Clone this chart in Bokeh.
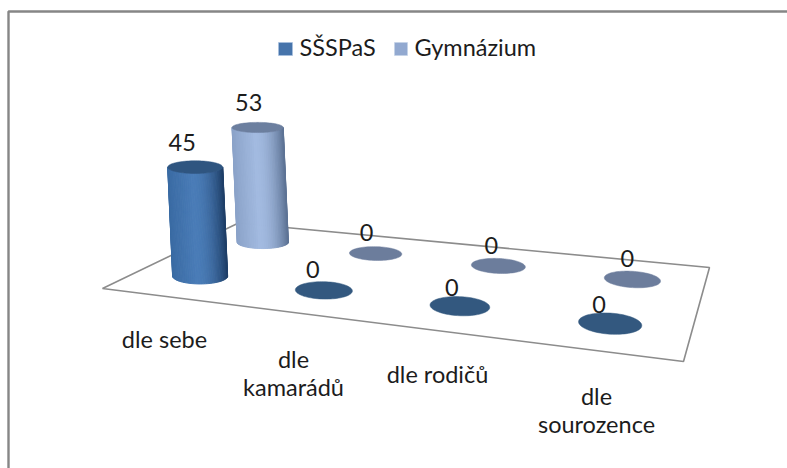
import math
from bokeh.plotting import figure
from bokeh.models import Range1d, ColumnDataSource
from bokeh.core.properties import value
from bokeh.embed import file_html
from bokeh.resources import INLINE

categories = ["dle sebe", "dle\nkamarádů", "dle rodičů", "dle\nsourozence"]
series_names = ["SŠSPaS", "Gymnázium"]
sss_values = [45, 0, 0, 0]
gym_values = [53, 0, 0, 0]

FONT = value("Lato")
FS = "23.5px"
TXT = "#1c1c1c"

# floor corners on the page: front-left, front-right, back-right, back-left
x0, y0, x1, y1, x2, y2, x3, y3 = 102, 288, 683, 361, 709, 267, 238, 222.5
dx1, dx2, sx = x1 - x2, x3 - x2, x0 - x1 + x2 - x3
dy1, dy2, sy = y1 - y2, y3 - y2, y0 - y1 + y2 - y3
den = dx1 * dy2 - dx2 * dy1
g = (sx * dy2 - dx2 * sy) / den
h = (dx1 * sy - sx * dy1) / den
a, b, c = x1 - x0 + g * x1, x3 - x0 + h * x3, x0
d, e, f = y1 - y0 + g * y1, y3 - y0 + h * y3, y0


def floor(u, v):
    w = g * u + h * v + 1
    return (a * u + b * v + c) / w, (d * u + e * v + f) / w, w


p = figure(width=787, height=468, output_backend="svg", toolbar_location=None,
           x_range=Range1d(0, 787), y_range=Range1d(468, 0), min_border=0,
           outline_line_color=None, background_fill_color="white")
p.xaxis.visible = False
p.yaxis.visible = False
p.grid.visible = False

# chart frame
p.line([8, 8, 787], [468, 11, 11], line_color="#868686", line_width=2.4)

# floor
p.patch([x0, x1, x2, x3, x0], [y0, y1, y2, y3, y0], fill_color="white",
        line_color="#8c8c8c", line_width=1.6)

DU, DV = 0.049, 0.105
N = 80
STYLES = [
    dict(stops=["#3a6ba3", "#4a7cb7", "#1f3f68"], cap="#2f5580", flat="#33587f"),
    dict(stops=["#8aa2c8", "#a2bae0", "#5d7395"], cap="#6c7f9f", flat="#6c7d9c"),
]
# nudges of the value labels, per series and category
ZERO_NUDGE = {
    0: [(0, 0), (-11, -3), (-8, -1), (-11, -1)],
    1: [(0, 0), (-9, -3), (-7, -2), (-5, -3)],
}


def hexrgb(s):
    return tuple(int(s[i:i + 2], 16) for i in (1, 3, 5))


def shade(stops, t):
    lo, mid, hi = (hexrgb(s) for s in stops)
    if t < 0.45:
        k = t / 0.45
        A, B = lo, mid
    else:
        k = (t - 0.45) / 0.55
        k = k * k
        A, B = mid, hi
    return "#%02x%02x%02x" % tuple(int(round(A[i] + (B[i] - A[i]) * k)) for i in range(3))


def draw_bar(i, s, val, style):
    u = (i + 0.5) / len(categories)
    v = (s + 0.5) / 2
    cx, cy, w = floor(u, v)
    rx = abs(floor(u + DU, v)[0] - floor(u - DU, v)[0]) / 2 + 5 * (1 - u)
    ry = abs(floor(u, v + DV)[1] - floor(u, v - DV)[1]) / 2
    tilt = 0.08 * (u - 0.125)
    ell = []
    for q in range(N):
        ang = 2 * math.pi * q / N
        ex, ey = rx * math.cos(ang), ry * math.sin(ang)
        ell.append((cx + ex, cy + ey + ex * tilt))
    height = val * 2.51 / w
    if val == 0:
        p.patch([q[0] for q in ell], [q[1] for q in ell], fill_color=style["flat"], line_color=style["flat"], line_width=0.5)
        return cx, cy - 18
    shift = -0.045 * height
    top = [(q[0] + shift, cy - height + (q[1] - cy) * 0.8) for q in ell]
    # side of the cylinder, built from narrow strips along the near half of the ellipse
    xs, ys, cols = [], [], []
    half = N // 2
    lo_x = min(q[0] for q in ell)
    span = max(q[0] for q in ell) - lo_x
    for j in range(half):
        m, n = half - j, half - j - 1
        xs.append([ell[m][0], ell[n][0], top[n][0], top[m][0]])
        ys.append([ell[m][1], ell[n][1], top[n][1], top[m][1]])
        t = (ell[m][0] + ell[n][0] - 2 * lo_x) / (2 * span)
        cols.append(shade(style["stops"], t))
    p.patches(xs, ys, fill_color=cols, line_color=cols, line_width=1.0)
    p.patch([q[0] for q in top], [q[1] for q in top], fill_color=style["cap"], line_color=style["cap"], line_width=0.5)
    return cx + shift, cy - height - 24


# back row first, then the front row
label_x, label_y, label_t = [], [], []
for s, vals in [(1, gym_values), (0, sss_values)]:
    for i, val in enumerate(vals):
        lx, ly = draw_bar(i, s, val, STYLES[s])
        if val == 0:
            lx += ZERO_NUDGE[s][i][0]
            ly += ZERO_NUDGE[s][i][1]
        else:
            lx -= 13 if s == 0 else 9
            ly -= 1
        label_x.append(lx)
        label_y.append(ly)
        label_t.append(str(val))

p.text(label_x, label_y, text=label_t, text_font=FONT, text_font_size=FS, text_color=TXT,
       text_align="center", text_baseline="middle")

# category labels, dropped below the front edge of the floor
cat_src = ColumnDataSource(dict(
    x=[164, 293, 437, 596],
    y=[338, 372.5, 373, 409],
    t=categories,
))
p.text("x", "y", text="t", source=cat_src, text_font=FONT, text_font_size=FS, text_color=TXT,
       text_align="center", text_baseline="middle", text_line_height=1.0)

# legend
p.quad(left=[278, 394], right=[292, 407], top=[42, 42], bottom=[55, 55],
       fill_color=["#4674ab", "#92a9d0"], line_color=["#a9c1e0", "#c3d1e8"], line_width=0.6)
p.text([299, 414], [46.5, 46.5], text=series_names, text_font=FONT, text_font_size=FS,
       text_color=TXT, text_align="left", text_baseline="middle")

open("out.html", "w").write(file_html(p, INLINE))
